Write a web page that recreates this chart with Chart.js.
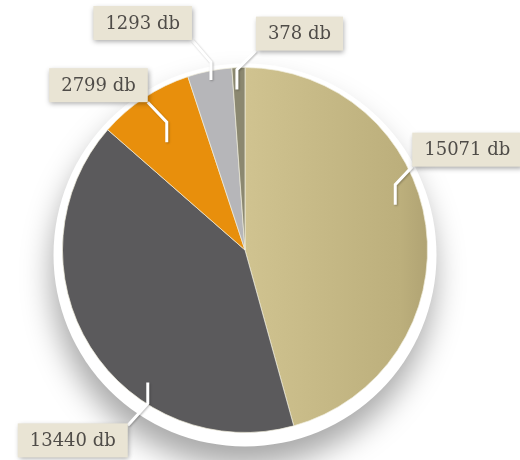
<!DOCTYPE html>
<html>
<head>
<meta charset="utf-8">
<script src="https://cdn.jsdelivr.net/npm/chart.js@4/dist/chart.umd.min.js"></script>
<style>
html,body{margin:0;padding:0;background:#fff;}
#wrap{width:520px;height:460px;}
</style>
</head>
<body>
<div id="wrap"><canvas id="c" width="520" height="460"></canvas></div>
<script>
const categories = ['A', 'B', 'C', 'D', 'E'];
const values = [15071, 13440, 2799, 1293, 378];
const valueSuffix = ' db';
const sliceColors = ['#cbbd8a', '#5b5a5c', '#e88f0c', '#b6b6b9', '#8b8870'];

// label layout: position of leader tip inside slice (fraction along slice angle, fraction of radius),
// vertical elbow length, diagonal offset, which box corner touches diagonal end
const labelLayout = [
  {t: 0.445, rf: 0.86, up: -20, dx: 17, dy: -18, corner: 'bl'},
  {t: 0.353, rf: 0.90, up: 21, dx: -20, dy: 22, corner: 'tr'},
  {t: 0.42, rf: 0.73, up: -20, dx: -19, dy: -20, corner: 'br'},
  {t: 0.49, rf: 0.95, up: -18, dx: -19, dy: -22, corner: 'br'},
  {t: 0.30, rf: 0.88, up: -20, dx: 19, dy: -19, corner: 'bl'}
];

const shadowPlugin = {
  id: 'pieShadow',
  beforeDatasetsDraw(chart) {
    const arc = chart.getDatasetMeta(0).data[0];
    if (!arc) return;
    const ctx = chart.ctx;
    const {x, y, outerRadius} = arc.getProps(['x', 'y', 'outerRadius'], true);
    ctx.save();
    ctx.shadowColor = 'rgba(0,0,0,0.34)';
    ctx.shadowBlur = 30;
    ctx.shadowOffsetY = 20;
    ctx.shadowOffsetX = -2;
    ctx.beginPath();
    ctx.arc(x, y + 5, outerRadius + 9, 0, Math.PI * 2);
    ctx.fillStyle = '#ffffff';
    ctx.fill();
    ctx.restore();
  }
};

const labelPlugin = {
  id: 'boxLabels',
  afterDatasetsDraw(chart) {
    const ctx = chart.ctx;
    const meta = chart.getDatasetMeta(0);
    ctx.save();
    ctx.font = '18px "DejaVu Serif", Georgia, serif';
    meta.data.forEach((arc, i) => {
      const L = labelLayout[i];
      const {x, y, startAngle, endAngle, outerRadius} = arc.getProps(['x', 'y', 'startAngle', 'endAngle', 'outerRadius'], true);
      const a = startAngle + (endAngle - startAngle) * L.t;
      const tx = x + Math.cos(a) * outerRadius * L.rf;
      const ty = y + Math.sin(a) * outerRadius * L.rf;
      const ex = tx, ey = ty + L.up;
      const dx = ex + L.dx, dy = ey + L.dy;
      // leader line
      ctx.save();
      ctx.shadowColor = 'rgba(0,0,0,0.25)';
      ctx.shadowBlur = 2;
      ctx.shadowOffsetX = 1;
      ctx.shadowOffsetY = 1;
      ctx.strokeStyle = '#ffffff';
      ctx.lineWidth = 3;
      ctx.lineJoin = 'miter';
      ctx.beginPath();
      ctx.moveTo(tx, ty);
      ctx.lineTo(ex, ey);
      ctx.lineTo(dx, dy);
      ctx.stroke();
      ctx.restore();
      // box
      const text = values[i] + valueSuffix;
      const tw = ctx.measureText(text).width;
      const bw = tw + 24, bh = 34;
      let bx, by;
      if (L.corner === 'bl') { bx = dx; by = dy - bh; }
      else if (L.corner === 'br') { bx = dx - bw; by = dy - bh; }
      else if (L.corner === 'tr') { bx = dx - bw; by = dy - 2; }
      else { bx = dx; by = dy; }
      ctx.save();
      ctx.shadowColor = 'rgba(0,0,0,0.35)';
      ctx.shadowBlur = 5;
      ctx.shadowOffsetX = 1;
      ctx.shadowOffsetY = 2;
      ctx.fillStyle = '#e9e4d4';
      ctx.fillRect(bx, by, bw, bh);
      ctx.restore();
      ctx.fillStyle = '#4f4c48';
      ctx.textAlign = 'center';
      ctx.textBaseline = 'middle';
      ctx.fillText(text, bx + bw / 2, by + bh / 2 + 1);
    });
    ctx.restore();
  }
};

function sliceBg(context) {
  const i = context.dataIndex;
  const chart = context.chart;
  if (i === 0 && chart.chartArea) {
    const ca = chart.chartArea;
    const cx = (ca.left + ca.right) / 2;
    const g = chart.ctx.createLinearGradient(cx, 0, ca.right, 0);
    g.addColorStop(0, '#d0c390');
    g.addColorStop(0.85, '#bcaf7c');
    g.addColorStop(1, '#b0a373');
    return g;
  }
  return sliceColors[i];
}

new Chart(document.getElementById('c'), {
  type: 'pie',
  data: {
    labels: categories,
    datasets: [{
      data: values,
      backgroundColor: sliceBg,
      borderColor: 'rgba(240,236,220,0.7)',
      borderWidth: 1
    }]
  },
  options: {
    responsive: false,
    animation: false,
    rotation: 0,
    layout: {padding: {left: 62, right: 92, top: 67, bottom: 27}},
    plugins: {
      legend: {display: false},
      tooltip: {enabled: false}
    }
  },
  plugins: [shadowPlugin, labelPlugin]
});
</script>
</body>
</html>
